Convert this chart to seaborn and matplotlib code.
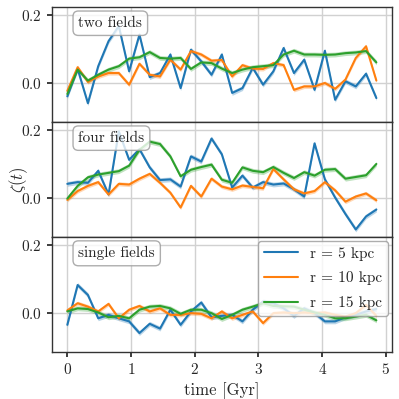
import numpy as np
import pandas as pd
import matplotlib
matplotlib.use("Agg")
import matplotlib.pyplot as plt
import seaborn as sns

# ---------------- data ----------------
time_gyr = [0.000, 0.162, 0.323, 0.485, 0.647, 0.808, 0.970, 1.132, 1.293, 1.455,
            1.617, 1.778, 1.940, 2.102, 2.263, 2.425, 2.587, 2.748, 2.910, 3.072,
            3.233, 3.395, 3.557, 3.718, 3.880, 4.042, 4.203, 4.365, 4.527, 4.688, 4.850]

panel_titles = ["two fields", "four fields", "single fields"]
series_labels = ["r = 5 kpc", "r = 10 kpc", "r = 15 kpc"]

two_r5 = [-0.038, 0.042, -0.058, 0.050, 0.123, 0.167, 0.035, 0.142, 0.018, 0.030,
          0.084, -0.014, 0.098, 0.064, 0.025, 0.084, -0.028, -0.014, 0.045, -0.004,
          0.035, 0.103, 0.030, 0.069, -0.019, 0.095, -0.048, 0.006, -0.009, 0.028, -0.043]
two_r10 = [-0.022, 0.047, 0.004, 0.020, 0.030, 0.030, -0.004, 0.057, 0.025, 0.020,
           0.069, 0.040, 0.094, 0.084, 0.066, 0.068, 0.020, 0.053, 0.043, 0.042,
           0.059, 0.053, -0.019, -0.009, -0.009, 0.001, -0.016, 0.011, 0.074, 0.108, 0.008]
two_r15 = [-0.031, 0.040, 0.008, 0.025, 0.040, 0.050, 0.072, 0.076, 0.091, 0.074,
           0.072, 0.074, 0.042, 0.061, 0.059, 0.043, 0.030, 0.040, 0.047, 0.050,
           0.053, 0.084, 0.095, 0.084, 0.084, 0.083, 0.084, 0.088, 0.090, 0.094, 0.061]

four_r5 = [0.042, 0.047, 0.045, 0.080, 0.011, 0.195, 0.112, 0.143, 0.090, 0.053,
           0.055, 0.034, 0.122, 0.107, 0.174, 0.128, 0.031, 0.066, 0.031, 0.047,
           0.040, 0.043, 0.026, 0.005, 0.160, 0.055, 0.002, -0.046, -0.091, -0.053, -0.033]
four_r10 = [-0.005, 0.021, 0.036, 0.047, 0.011, 0.042, 0.040, 0.057, 0.071, 0.045,
            0.016, -0.027, 0.036, 0.005, 0.057, 0.034, 0.026, 0.037, 0.033, 0.029,
            0.085, 0.055, 0.026, 0.014, 0.021, 0.047, 0.023, -0.010, 0.005, 0.014, -0.006]
four_r15 = [-0.001, 0.036, 0.061, 0.069, 0.074, 0.079, 0.095, 0.141, 0.165, 0.158,
            0.122, 0.064, 0.083, 0.091, 0.098, 0.054, 0.045, 0.090, 0.080, 0.076,
            0.091, 0.074, 0.059, 0.076, 0.066, 0.083, 0.085, 0.057, 0.062, 0.067, 0.100]

single_r5 = [-0.034, 0.082, 0.053, -0.015, -0.005, -0.015, -0.024, -0.058, -0.031, -0.045,
             0.010, -0.034, 0.005, 0.031, -0.012, -0.008, -0.005, -0.024, 0.010, 0.034,
             0.029, 0.014, -0.008, 0.014, 0.000, -0.024, -0.024, -0.012, -0.005, 0.005, 0.012]
single_r10 = [0.008, 0.029, 0.019, 0.005, 0.027, -0.015, 0.010, 0.021, 0.005, 0.014,
              -0.005, -0.005, 0.000, -0.002, -0.015, 0.005, -0.015, -0.005, 0.005, -0.029,
              0.000, 0.002, 0.000, 0.002, 0.000, 0.002, -0.005, -0.010, 0.000, 0.024, -0.008]
single_r15 = [0.005, 0.014, 0.012, 0.002, -0.012, -0.008, -0.015, 0.010, 0.019, 0.021,
              0.014, -0.002, 0.010, 0.010, 0.000, -0.017, -0.005, 0.010, 0.019, 0.029,
              0.021, 0.020, 0.019, 0.010, 0.002, -0.005, -0.015, -0.015, -0.010, -0.005, -0.021]

band_halfwidth = [0.007, 0.006, 0.007]  # uncertainty of each radius

panels = [[two_r5, two_r10, two_r15],
          [four_r5, four_r10, four_r15],
          [single_r5, single_r10, single_r15]]

# ---------------- style ----------------
sns.set_theme(style="whitegrid")
plt.rcParams.update({
    "font.family": ["cmr10", "DejaVu Serif"],
    "mathtext.fontset": "cm",
    "axes.formatter.use_mathtext": True,
    "font.size": 11,
    "axes.edgecolor": "0.2",
    "axes.linewidth": 1.0,
    "grid.color": "0.82",
    "grid.linewidth": 1.0,
    "xtick.bottom": True,
    "ytick.left": True,
    "xtick.major.size": 3.5,
    "ytick.major.size": 3.5,
    "xtick.color": "0.15",
    "ytick.color": "0.15",
    "xtick.labelsize": 11,
    "ytick.labelsize": 11,
})

colors = sns.color_palette("tab10", 3)

fig, axes = plt.subplots(3, 1, sharex=True, sharey=True, figsize=(3.99, 3.99), dpi=100)
fig.subplots_adjust(left=0.13, right=0.982, top=0.982, bottom=0.118, hspace=0)

for ax, title, series in zip(axes, panel_titles, panels):
    for vals, lab, col, hw in zip(series, series_labels, colors, band_halfwidth):
        df = pd.DataFrame({"t": time_gyr, "z": vals})
        sns.lineplot(data=df, x="t", y="z", ax=ax, color=col, lw=1.5, label=lab, errorbar=None)
        v = np.asarray(vals)
        ax.fill_between(time_gyr, v - hw, v + hw, color=col, alpha=0.3, lw=0)
    ax.text(0.078, 0.92, title, transform=ax.transAxes, ha="left", va="top", fontsize=11,
            bbox=dict(boxstyle="round,pad=0.35", fc="white", ec="0.6", alpha=0.8), zorder=5)
    ax.set_xlabel("")
    ax.set_ylabel("")
    if ax is not axes[2]:
        ax.get_legend().remove()
    for s in ax.spines.values():
        s.set_visible(True)

axes[0].set_ylim(-0.113, 0.222)
axes[0].set_yticks([0.0, 0.2])
axes[0].set_xlim(-0.2425, 5.0925)
axes[2].set_xticks([0, 1, 2, 3, 4, 5])
axes[2].set_xlabel("time [Gyr]")
axes[1].set_ylabel(r"$\zeta(t)$")
axes[1].yaxis.set_label_coords(-0.065, 0.5)

leg = axes[2].legend(loc="upper right", fontsize=11, framealpha=0.8, edgecolor="0.6",
                     borderaxespad=0.25, labelspacing=0.7, handlelength=2.2)

fig.savefig("out.png", dpi=100)
